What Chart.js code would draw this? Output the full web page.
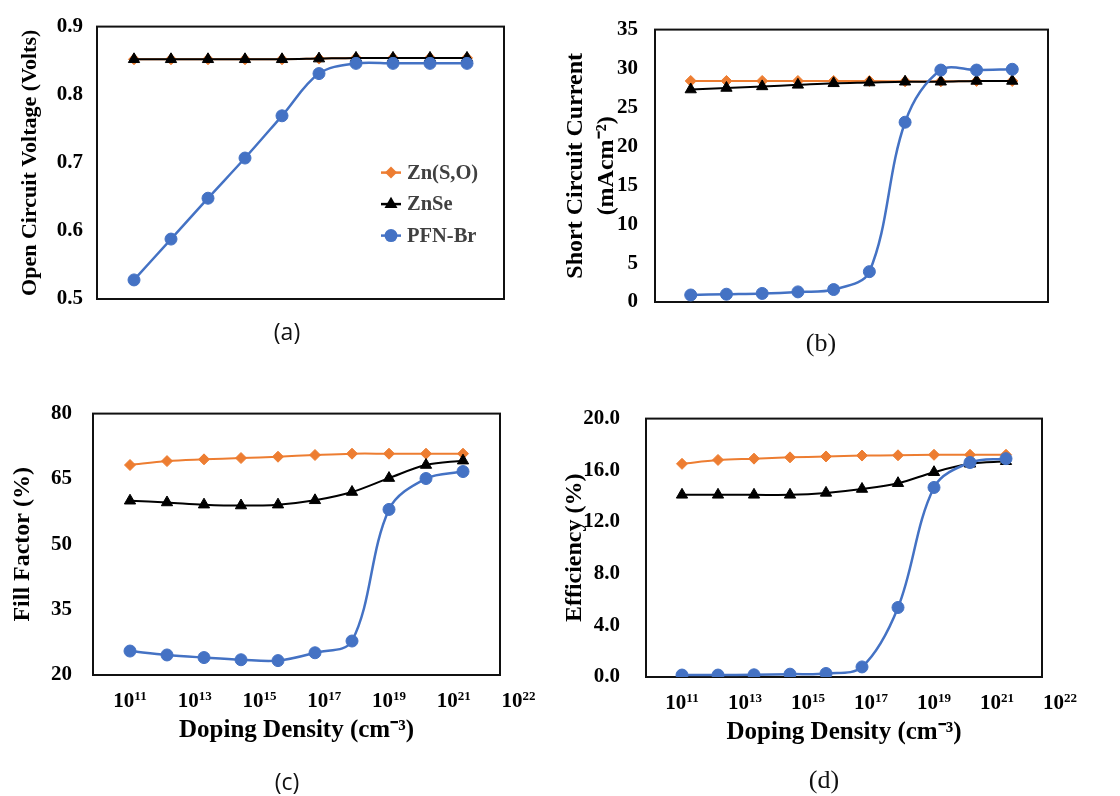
<!DOCTYPE html>
<html>
<head>
<meta charset="utf-8">
<script src="https://cdn.jsdelivr.net/npm/chart.js@4.4.1/dist/chart.umd.min.js"></script>
<style>
  body { margin: 0; background: #fff; }
  #wrap { position: relative; width: 1120px; height: 796px; overflow: hidden; }
  .panel { position: absolute; }
  .cap { position: absolute; font-size: 23px; color: #111; transform: translateX(-50%); line-height: 1; }
  .sans { font-family: "Open Sans", sans-serif; }
  .serif { font-family: "Liberation Serif", serif; font-size: 26px; }
</style>
</head>
<body>
<div id="wrap">
  <div class="panel" style="left:0;top:0;width:560px;height:380px"><canvas id="pa"></canvas></div>
  <div class="panel" style="left:560px;top:0;width:560px;height:380px"><canvas id="pb"></canvas></div>
  <div class="panel" style="left:0;top:380px;width:560px;height:416px"><canvas id="pc"></canvas></div>
  <div class="panel" style="left:560px;top:380px;width:560px;height:416px"><canvas id="pd"></canvas></div>
  <div class="cap sans" style="left:287px;top:320px">(a)</div>
  <div class="cap serif" style="left:821px;top:330px">(b)</div>
  <div class="cap sans" style="left:287px;top:770px">(c)</div>
  <div class="cap serif" style="left:824px;top:767px">(d)</div>
</div>
<script>
// doping steps (index along the x axis) and the axis labels under (c) and (d)
const xPos = [0, 1, 2, 3, 4, 5, 6, 7, 8, 9];
const tickExp = ['11', '13', '15', '17', '19', '21', '22'];
const tickAt = [0, 1.75, 3.5, 5.25, 7, 8.75, 10.5];

const seriesNames = ['Zn(S,O)', 'ZnSe', 'PFN-Br'];

// (a) open circuit voltage
const vocZnSO = [0.852, 0.852, 0.852, 0.852, 0.852, 0.853, 0.854, 0.854, 0.854, 0.854];
const vocZnSe = [0.852, 0.852, 0.852, 0.852, 0.852, 0.853, 0.854, 0.854, 0.854, 0.854];
const vocPFN  = [0.528, 0.588, 0.648, 0.707, 0.769, 0.831, 0.846, 0.846, 0.846, 0.846];

// (b) short circuit current
const jscZnSO = [28.4, 28.4, 28.4, 28.4, 28.4, 28.4, 28.35, 28.35, 28.4, 28.4];
const jscZnSe = [27.3, 27.5, 27.7, 27.9, 28.1, 28.2, 28.3, 28.3, 28.4, 28.4];
const jscPFN  = [0.9, 1.0, 1.1, 1.3, 1.6, 3.9, 23.1, 29.8, 29.8, 29.9];

// (c) fill factor
const ffZnSO = [68.2, 69.1, 69.5, 69.8, 70.1, 70.5, 70.8, 70.8, 70.8, 70.8];
const ffZnSe = [60.0, 59.6, 59.1, 58.9, 59.1, 60.1, 62.0, 65.2, 68.2, 69.2];
const ffPFN  = [25.5, 24.6, 24.0, 23.5, 23.3, 25.1, 27.8, 58.0, 65.1, 66.7];

// (d) efficiency
const effZnSO = [16.5, 16.8, 16.9, 17.0, 17.07, 17.14, 17.16, 17.2, 17.2, 17.2];
const effZnSe = [14.1, 14.1, 14.1, 14.1, 14.25, 14.55, 15.0, 15.85, 16.5, 16.7];
const effPFN  = [0.15, 0.15, 0.17, 0.22, 0.27, 0.78, 5.38, 14.67, 16.6, 16.9];

const orange = '#ED7D31';
const black = '#000000';
const blue = '#4472C4';
const serif = '"Liberation Serif", "Times New Roman", serif';

function makeSeries(label, values, color, style, radius, order) {
  return {
    label: label,
    data: xPos.map((x, i) => ({x: x, y: values[i]})),
    borderColor: color,
    backgroundColor: color,
    pointStyle: style,
    pointRadius: radius,
    pointBorderWidth: 1,
    borderWidth: color === blue ? 2.5 : 2,
    tension: 0.35,
    order: order
  };
}

function drawMarker(ctx, style, x, y, r) {
  ctx.beginPath();
  if (style === 'circle') {
    ctx.arc(x, y, r, 0, Math.PI * 2);
  } else if (style === 'triangle') {
    ctx.moveTo(x, y - r * 1.15);
    ctx.lineTo(x + r, y + r * 0.6);
    ctx.lineTo(x - r, y + r * 0.6);
  } else {
    ctx.moveTo(x, y - r);
    ctx.lineTo(x + r, y);
    ctx.lineTo(x, y + r);
    ctx.lineTo(x - r, y);
  }
  ctx.closePath();
  ctx.fill();
}

// black frame round the plot, exponent tick labels, legend in (a)
const decor = {
  id: 'decor',
  beforeDatasetsDraw(chart) {
    const {ctx, chartArea: a} = chart;
    ctx.save();
    ctx.strokeStyle = '#111';
    ctx.lineWidth = 2;
    ctx.strokeRect(a.left, a.top, a.right - a.left, a.bottom - a.top);
    ctx.restore();
  },
  afterDraw(chart, args, opts) {
    const {ctx, chartArea: a} = chart;
    const xs = chart.scales.x;
    ctx.save();
    if (opts.expTicks) {
      ctx.fillStyle = '#000';
      ctx.textBaseline = 'alphabetic';
      ctx.textAlign = 'left';
      tickAt.forEach((v, i) => {
        const cx = xs.getPixelForValue(v);
        ctx.font = 'bold 21px ' + serif;
        const wb = ctx.measureText('10').width;
        ctx.font = 'bold 13px ' + serif;
        const we = ctx.measureText(tickExp[i]).width;
        const x0 = cx - (wb + we) / 2;
        const base = a.bottom + 32;
        ctx.font = 'bold 21px ' + serif;
        ctx.fillText('10', x0, base);
        ctx.font = 'bold 13px ' + serif;
        ctx.fillText(tickExp[i], x0 + wb, base - 7);
      });
    }
    if (opts.legend) {
      const lg = opts.legend;
      ctx.font = 'bold 20.5px ' + serif;
      ctx.textBaseline = 'middle';
      ctx.textAlign = 'left';
      chart.data.datasets.forEach((ds, i) => {
        const y = a.top + lg.y + i * lg.gap;
        const x = a.left + lg.x;
        ctx.strokeStyle = ds.borderColor;
        ctx.fillStyle = ds.borderColor;
        ctx.lineWidth = 2.5;
        ctx.beginPath();
        ctx.moveTo(x - 10, y);
        ctx.lineTo(x + 10, y);
        ctx.stroke();
        drawMarker(ctx, ds.pointStyle, x, y, ds.pointStyle === 'rectRot' ? 6 : 6.5);
        ctx.fillStyle = '#404040';
        ctx.fillText(ds.label, x + 16, y + 1);
      });
    }
    ctx.restore();
  }
};

function makePanel(id, p) {
  const datasets = [
    makeSeries(seriesNames[0], p.data[0], orange, 'rectRot', 5.5, 3),
    makeSeries(seriesNames[1], p.data[1], black, 'triangle', 6.5, 2),
    makeSeries(seriesNames[2], p.data[2], blue, 'circle', 6, 1)
  ];
  new Chart(document.getElementById(id), {
    type: 'line',
    data: {datasets: datasets},
    plugins: [decor],
    options: {
      responsive: true,
      maintainAspectRatio: false,
      animation: false,
      layout: {padding: {left: 0, top: p.top, right: p.right, bottom: p.bottom}},
      plugins: {
        legend: {display: false},
        tooltip: {enabled: false},
        decor: {expTicks: p.expTicks, legend: p.legend}
      },
      scales: {
        x: {
          type: 'linear', min: -1, max: 10,
          display: true,
          grid: {display: false, drawTicks: false},
          border: {display: false},
          ticks: {display: false},
          title: {
            display: p.expTicks,
            text: 'Doping Density (cm\u207B\u00B3)',
            color: '#000',
            font: {family: serif, size: 25, weight: 'bold'},
            padding: {top: 0, bottom: 9}
          },
          afterFit(s) { s.height = p.expTicks ? 80 : 0; }
        },
        y: {
          min: p.min, max: p.max,
          grid: {display: false, drawTicks: false},
          border: {display: false},
          ticks: {
            stepSize: p.step,
            padding: p.tickPad,
            color: '#000',
            font: {family: serif, size: 21, weight: 'bold'},
            callback: p.fmt
          },
          title: {
            display: true,
            text: p.title,
            color: '#000',
            font: {family: serif, size: p.titleSize, weight: 'bold', lineHeight: p.titleLH || 1.2},
            padding: {top: p.titlePad, bottom: 0}
          },
          afterFit(s) { s.width = p.left; }
        }
      }
    }
  });
}

makePanel('pa', {
  data: [vocZnSO, vocZnSe, vocPFN],
  min: 0.5, max: 0.9, step: 0.1, fmt: v => v.toFixed(1),
  title: 'Open Circuit Voltage (Volts)', titleSize: 22, titlePad: 17,
  left: 97, top: 22, right: 56, bottom: 81, tickPad: 14,
  expTicks: false,
  legend: {x: 294, y: 146, gap: 31.5}
});

makePanel('pb', {
  data: [jscZnSO, jscZnSe, jscPFN],
  min: 0, max: 35, step: 5, fmt: v => v,
  title: ['Short Circuit Current', '(mAcm\u207B\u00B2)'], titleSize: 24, titlePad: 0, titleLH: 1.3,
  left: 95, top: 29, right: 72, bottom: 78, tickPad: 17,
  expTicks: false
});

makePanel('pc', {
  data: [ffZnSO, ffZnSe, ffPFN],
  min: 20, max: 80, step: 15, fmt: v => v,
  title: 'Fill Factor (%)', titleSize: 24, titlePad: 8,
  left: 93, top: 20, right: 60, bottom: 41, tickPad: 21,
  expTicks: true
});

makePanel('pd', {
  data: [effZnSO, effZnSe, effPFN],
  min: 0, max: 20, step: 4, fmt: v => v.toFixed(1),
  title: 'Efficiency (%)', titleSize: 24, titlePad: 0,
  left: 86, top: 22, right: 78, bottom: 39, tickPad: 26,
  expTicks: true
});
</script>
</body>
</html>
